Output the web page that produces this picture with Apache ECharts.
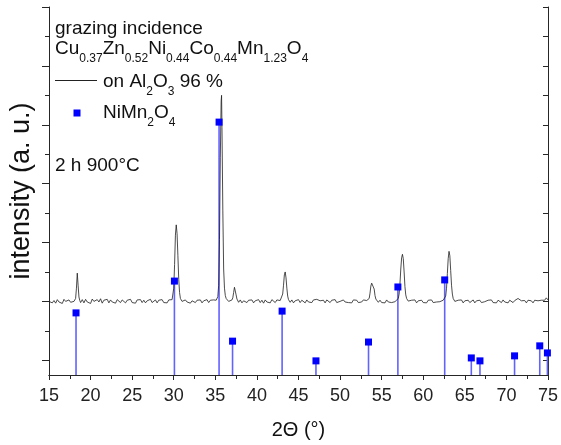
<!DOCTYPE html>
<html><head><meta charset="utf-8">
<script src="https://cdn.jsdelivr.net/npm/echarts@6/dist/echarts.min.js"></script>
<style>html,body{margin:0;padding:0;background:#fff}#c{width:561px;height:445px}</style>
</head><body><div id="c"></div>
<script>
// measured XRD pattern: [2theta (deg), intensity (a.u., shifted scale)]
const xrdPattern = [
[15.0,2.50],[15.2,2.55],[15.4,2.45],[15.6,2.53],[15.8,2.44],[16.0,2.56],[16.2,2.48],[16.4,2.52],[16.6,2.43],[16.8,2.57],
[17.0,2.50],[17.2,2.45],[17.4,2.55],[17.6,2.47],[17.8,2.53],[18.0,2.50],[18.1,2.52],[18.2,2.60],[18.3,2.95],[18.4,3.46],
[18.5,3.05],[18.6,2.65],[18.7,2.53],[18.8,2.46],[19.0,2.56],[19.2,2.45],[19.4,2.57],[19.6,2.48],[19.8,2.54],[20.0,2.43],
[20.2,2.58],[20.4,2.50],[20.6,2.45],[20.8,2.56],[21.0,2.48],[21.2,2.59],[21.4,2.44],[21.6,2.54],[21.8,2.49],[22.0,2.57],
[22.2,2.45],[22.4,2.55],[22.6,2.48],[22.8,2.52],[23.0,2.44],[23.2,2.56],[23.4,2.50],[23.6,2.46],[23.8,2.55],[24.0,2.51],
[24.2,2.45],[24.4,2.54],[24.6,2.48],[24.8,2.57],[25.0,2.46],[25.2,2.52],[25.4,2.44],[25.6,2.55],[25.8,2.49],[26.0,2.56],
[26.2,2.46],[26.4,2.54],[26.6,2.45],[26.8,2.52],[27.0,2.48],[27.2,2.57],[27.4,2.46],[27.6,2.51],[27.8,2.55],[28.0,2.45],
[28.2,2.54],[28.4,2.48],[28.6,2.56],[28.8,2.46],[29.0,2.52],[29.2,2.45],[29.4,2.55],[29.6,2.50],[29.8,2.56],[29.9,2.62],
[30.0,2.95],[30.1,3.75],[30.2,4.75],[30.3,5.10],[30.4,4.80],[30.5,4.05],[30.6,3.25],[30.7,2.80],[30.8,2.60],[30.9,2.54],
[31.0,2.50],[31.2,2.45],[31.4,2.55],[31.6,2.48],[31.8,2.54],[32.0,2.44],[32.2,2.52],[32.4,2.56],[32.6,2.46],[32.8,2.54],
[33.0,2.48],[33.2,2.55],[33.4,2.45],[33.6,2.52],[33.8,2.49],[34.0,2.56],[34.2,2.46],[34.4,2.54],[34.6,2.48],[34.8,2.55],
[35.0,2.51],[35.1,2.54],[35.2,2.58],[35.3,2.66],[35.4,3.05],[35.5,4.60],[35.6,7.40],[35.7,9.30],[35.75,9.50],[35.8,8.40],
[35.9,5.60],[36.0,3.60],[36.1,2.95],[36.2,2.70],[36.3,2.60],[36.4,2.55],[36.6,2.50],[36.8,2.53],[37.0,2.55],[37.1,2.62],
[37.2,2.80],[37.3,2.98],[37.4,2.95],[37.5,2.72],[37.6,2.58],[37.7,2.52],[37.8,2.47],[38.0,2.55],[38.2,2.45],[38.4,2.52],
[38.6,2.56],[38.8,2.46],[39.0,2.54],[39.2,2.48],[39.4,2.55],[39.6,2.45],[39.8,2.52],[40.0,2.49],[40.2,2.56],[40.4,2.46],
[40.6,2.54],[40.8,2.44],[41.0,2.55],[41.2,2.48],[41.4,2.52],[41.6,2.45],[41.8,2.56],[42.0,2.50],[42.2,2.46],[42.4,2.55],
[42.6,2.49],[42.8,2.53],[43.0,2.58],[43.1,2.75],[43.2,3.05],[43.3,3.40],[43.4,3.50],[43.5,3.30],[43.6,2.95],[43.7,2.68],
[43.8,2.56],[43.9,2.52],[44.0,2.47],[44.2,2.55],[44.4,2.45],[44.6,2.52],[44.8,2.48],[45.0,2.56],[45.2,2.46],[45.4,2.54],
[45.6,2.50],[45.8,2.45],[46.0,2.55],[46.2,2.48],[46.4,2.52],[46.6,2.46],[46.8,2.55],[47.0,2.50],[47.2,2.57],[47.4,2.60],
[47.6,2.52],[47.8,2.47],[48.0,2.54],[48.2,2.45],[48.4,2.55],[48.6,2.49],[48.8,2.46],[49.0,2.54],[49.2,2.48],[49.4,2.56],
[49.6,2.46],[49.8,2.52],[50.0,2.50],[50.2,2.45],[50.4,2.55],[50.6,2.48],[50.8,2.54],[51.0,2.46],[51.2,2.52],[51.4,2.45],
[51.6,2.55],[51.8,2.49],[52.0,2.54],[52.2,2.46],[52.4,2.52],[52.6,2.48],[52.8,2.55],[53.0,2.49],[53.2,2.53],[53.4,2.55],
[53.5,2.60],[53.6,2.78],[53.7,3.02],[53.8,3.12],[53.9,3.08],[54.0,3.10],[54.1,2.92],[54.2,2.70],[54.3,2.58],[54.4,2.53],
[54.6,2.47],[54.8,2.54],[55.0,2.46],[55.2,2.52],[55.4,2.45],[55.6,2.55],[55.8,2.48],[56.0,2.54],[56.2,2.46],[56.4,2.52],
[56.6,2.49],[56.8,2.54],[57.0,2.60],[57.1,2.75],[57.2,3.10],[57.3,3.60],[57.4,3.98],[57.5,4.10],[57.6,3.95],[57.7,3.50],
[57.8,3.00],[57.9,2.72],[58.0,2.60],[58.1,2.54],[58.2,2.51],[58.4,2.46],[58.6,2.54],[58.8,2.48],[59.0,2.55],[59.2,2.45],
[59.4,2.52],[59.6,2.48],[59.8,2.54],[60.0,2.46],[60.2,2.52],[60.4,2.45],[60.6,2.54],[60.8,2.49],[61.0,2.55],[61.2,2.46],
[61.4,2.52],[61.6,2.48],[61.8,2.54],[62.0,2.49],[62.2,2.46],[62.4,2.54],[62.6,2.58],[62.7,2.68],[62.8,2.95],[62.9,3.45],
[63.0,3.95],[63.1,4.20],[63.2,4.05],[63.3,3.55],[63.4,3.05],[63.5,2.75],[63.6,2.60],[63.7,2.54],[63.8,2.50],[64.0,2.46],
[64.2,2.54],[64.4,2.48],[64.6,2.55],[64.8,2.45],[65.0,2.52],[65.2,2.48],[65.4,2.54],[65.6,2.46],[65.8,2.51],[66.0,2.55],
[66.2,2.45],[66.4,2.52],[66.6,2.48],[66.8,2.54],[67.0,2.46],[67.2,2.52],[67.4,2.49],[67.6,2.45],[67.8,2.54],[68.0,2.48],
[68.2,2.55],[68.4,2.46],[68.6,2.52],[68.8,2.45],[69.0,2.54],[69.2,2.49],[69.4,2.46],[69.6,2.55],[69.8,2.48],[70.0,2.52],
[70.2,2.45],[70.4,2.54],[70.6,2.49],[70.8,2.46],[71.0,2.53],[71.2,2.54],[71.4,2.60],[71.5,2.63],[71.6,2.58],[71.8,2.52],
[72.0,2.47],[72.2,2.53],[72.4,2.45],[72.6,2.54],[72.8,2.48],[73.0,2.52],[73.2,2.45],[73.4,2.54],[73.6,2.48],[73.8,2.52],
[74.0,2.46],[74.2,2.54],[74.4,2.48],[74.6,2.54],[74.7,2.56],[74.8,2.62],[74.9,2.64],[75.0,2.55]
];
// NiMn2O4 reference pattern (stick positions / relative intensity on same scale)
const refPositions = [18.25, 30.08, 35.45, 37.07, 43.03, 47.10, 53.42, 56.95, 62.58, 65.78, 66.82, 70.98, 74.01, 74.93];
const refIntensity = [2.11, 3.19, 8.59, 1.15, 2.17, 0.48, 1.12, 2.99, 3.23, 0.58, 0.48, 0.65, 0.99, 0.75];
const yMajorTicks = [0.5, 2.5, 4.5, 6.5, 8.5, 10.5, 12.5];
const yMinorTicks = [1.5, 3.5, 5.5, 7.5, 9.5, 11.5];
const yAllTicks = [0.5, 1.5, 2.5, 3.5, 4.5, 5.5, 6.5, 7.5, 8.5, 9.5, 10.5, 11.5, 12.5];

const refData = refPositions.map((x, i) => [x, refIntensity[i]]);
const FONT = 'Liberation Sans, Arial, sans-serif';
const AX = '#262626';
const L = 32;

function tline(x, top, text) {
  return {
    type: 'text', x: x, y: top, z: 100,
    style: {
      text: text, fontFamily: FONT, fontSize: 19, fill: '#111',
      lineHeight: L, verticalAlign: 'top',
      rich: { s: { fontFamily: FONT, fontSize: 12, fill: '#111', verticalAlign: 'bottom', lineHeight: L } }
    }
  };
}

const chart = echarts.init(document.getElementById('c'), null, { renderer: 'canvas' });
const yBase = { type: 'value', min: 0, max: 12.5, splitLine: { show: false }, axisLabel: { show: false } };
chart.setOption({
  backgroundColor: '#fff',
  animation: false,
  grid: { left: 49, right: 11.5, top: 7, bottom: 70, containLabel: false },
  xAxis: [
    {
      type: 'value', min: 15, max: 75, interval: 5, position: 'bottom',
      name: '2\u0398 (\u00b0)', nameLocation: 'middle', nameGap: 45,
      nameTextStyle: { fontFamily: FONT, fontSize: 20, color: '#111' },
      axisLine: { show: true, lineStyle: { color: AX, width: 1 } },
      axisTick: { show: true, inside: false, length: 5, lineStyle: { color: AX } },
      minorTick: { show: true, splitNumber: 2, length: 3, lineStyle: { color: AX } },
      axisLabel: { show: true, fontFamily: FONT, fontSize: 18, color: '#222', margin: 12 },
      splitLine: { show: false }, minorSplitLine: { show: false }
    },
    {
      type: 'value', min: 15, max: 75, interval: 2.5, position: 'top',
      axisLine: { show: true, lineStyle: { color: AX, width: 1 } },
      axisTick: { show: true, inside: true, length: 4, lineStyle: { color: AX } },
      axisLabel: { show: false }, splitLine: { show: false }
    }
  ],
  yAxis: [
    Object.assign({}, yBase, {
      position: 'left',
      name: 'intensity (a. u.)', nameLocation: 'middle', nameGap: 14,
      nameTextStyle: { fontFamily: FONT, fontSize: 27, color: '#111' },
      axisLine: { show: true, lineStyle: { color: AX, width: 1 } },
      axisTick: { show: true, inside: false, length: 7, customValues: yMajorTicks, lineStyle: { color: AX } }
    }),
    Object.assign({}, yBase, {
      position: 'left',
      axisLine: { show: false },
      axisTick: { show: true, inside: false, length: 4, customValues: yMinorTicks, lineStyle: { color: AX } }
    }),
    Object.assign({}, yBase, {
      position: 'right',
      axisLine: { show: true, lineStyle: { color: AX, width: 1 } },
      axisTick: { show: true, inside: true, length: 5, customValues: yAllTicks, lineStyle: { color: AX } }
    })
  ],
  series: [
    {
      name: 'on Al2O3 96 %', type: 'line', xAxisIndex: 0, yAxisIndex: 0,
      data: xrdPattern, showSymbol: false, symbol: 'none',
      lineStyle: { color: '#1e1e1e', width: 0.8 }, z: 2, silent: true
    },
    {
      name: 'NiMn2O4 sticks', type: 'bar', xAxisIndex: 0, yAxisIndex: 0,
      data: refData, barWidth: 1.6, itemStyle: { color: '#6262ff' }, z: 1, silent: true
    },
    {
      name: 'NiMn2O4', type: 'scatter', xAxisIndex: 0, yAxisIndex: 0,
      data: refData, symbol: 'rect', symbolSize: 7, itemStyle: { color: '#0000ff', opacity: 1 }, z: 3, silent: true
    }
  ],
  graphic: [
    tline(55, 13, 'grazing incidence'),
    tline(55, 33, 'Cu{s|0.37}Zn{s|0.52}Ni{s|0.44}Co{s|0.44}Mn{s|1.23}O{s|4}'),
    { type: 'line', z: 100, shape: { x1: 55, y1: 80.5, x2: 97, y2: 80.5 }, style: { stroke: '#222', lineWidth: 1 } },
    tline(103, 66, 'on Al{s|2}O{s|3} 96 %'),
    { type: 'rect', z: 100, shape: { x: 73.5, y: 109.5, width: 7, height: 7 }, style: { fill: '#0000ff' } },
    tline(103, 97, 'NiMn{s|2}O{s|4}'),
    tline(55, 150, '2 h 900\u00b0C')
  ]
});
</script>
</body></html>
